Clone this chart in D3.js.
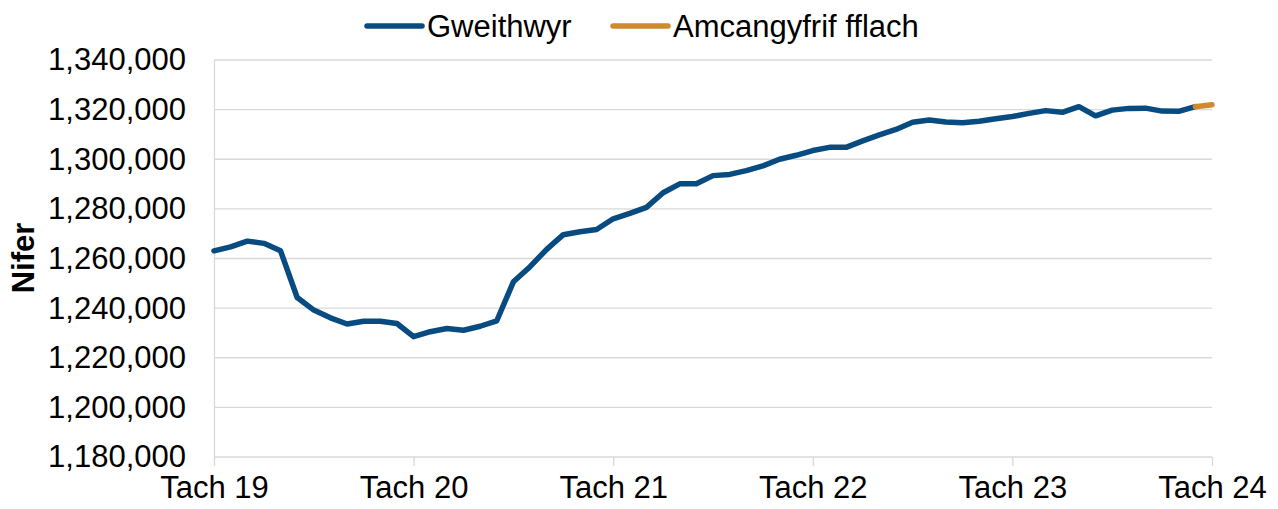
<!DOCTYPE html>
<html>
<head>
<meta charset="utf-8">
<script src="https://cdn.jsdelivr.net/npm/d3@7"></script>
<style>
	body { margin: 0; background: #fff; }
	#chart text { font-family: "Liberation Sans", Arial, sans-serif; fill: #000; }
	.grid line { stroke: #d9d9d9; stroke-width: 1.3; }
	.axis path, .axis line { stroke: #d9d9d9; stroke-width: 1.3; }
</style>
</head>
<body>
<div id="chart"></div>
<script>
// monthly, Tach 19 (index 0) .. Tach 24 (index 60)
var workers = [
	1263100, 1264700, 1267000, 1266100, 1263100, 1244300, 1239200, 1236100, 1233600, 1234700,
	1234700, 1233800, 1228500, 1230500, 1231800, 1231100, 1232700, 1234900, 1250600, 1256700,
	1263700, 1269600, 1270800, 1271700, 1276000, 1278200, 1280600, 1286500, 1290100, 1290100,
	1293400, 1293900, 1295400, 1297300, 1300000, 1301600, 1303500, 1304800, 1304800, 1307400,
	1309800, 1312000, 1314900, 1315800, 1315000, 1314700, 1315300, 1316300, 1317200, 1318500,
	1319600, 1318900, 1321200, 1317500, 1319800, 1320500, 1320600, 1319400, 1319300, 1321200
];
var flashStart = 59;
var flash = [1321200, 1322000];

var xTickIdx = [0, 12, 24, 36, 48, 60];
var xTickLabels = ["Tach 19", "Tach 20", "Tach 21", "Tach 22", "Tach 23", "Tach 24"];
var yTicks = [1180000, 1200000, 1220000, 1240000, 1260000, 1280000, 1300000, 1320000, 1340000];

var seriesNames = ["Gweithwyr", "Amcangyfrif fflach"];
var colors = ["#074b81", "#cf8a2c"];

(function(){
	var width = 1278, height = 509;
	var left = 214, right = 1212, top = 60, bottom = 457;

	var svg = d3.select("#chart").append("svg")
		.attr("width", width)
		.attr("height", height);

	var x = d3.scaleLinear().domain([0, 60]).range([left, right]);
	var y = d3.scaleLinear().domain([1180000, 1340000]).range([bottom, top]);

	// gridlines
	svg.append("g").attr("class", "grid")
		.selectAll("line")
		.data(yTicks.slice(1))
		.enter().append("line")
		.attr("x1", left).attr("x2", right)
		.attr("y1", function(d){ return y(d); })
		.attr("y2", function(d){ return y(d); });

	// y axis
	var yAxis = svg.append("g").attr("class", "axis")
		.attr("transform", "translate(" + left + ",0)")
		.call(d3.axisLeft(y).tickValues(yTicks).tickSize(0).tickPadding(28)
			.tickFormat(d3.format(",")));
	yAxis.selectAll("text").style("font-size", "31px");

	// x axis
	var xAxis = svg.append("g").attr("class", "axis")
		.attr("transform", "translate(0," + bottom + ")")
		.call(d3.axisBottom(x).tickValues(xTickIdx).tickSize(9).tickPadding(10)
			.tickFormat(function(d, i){ return xTickLabels[i]; }));
	xAxis.select(".domain").attr("d", "M" + left + ",0H" + right);
	xAxis.selectAll("text").style("font-size", "31px");

	// y title
	svg.append("text")
		.attr("transform", "translate(34,258) rotate(-90)")
		.attr("text-anchor", "middle")
		.style("font-size", "31px")
		.style("font-weight", "bold")
		.text("Nifer");

	var line = d3.line()
		.x(function(d){ return x(d.i); })
		.y(function(d){ return y(d.v); });

	var workerPts = workers.map(function(v, i){ return {i: i, v: v}; });
	var flashPts = flash.map(function(v, i){ return {i: flashStart + i, v: v}; });

	svg.append("path")
		.datum(workerPts)
		.attr("d", line)
		.attr("fill", "none")
		.attr("stroke", colors[0])
		.attr("stroke-width", 5.5)
		.attr("stroke-linejoin", "round")
		.attr("stroke-linecap", "round");

	svg.append("path")
		.datum(flashPts)
		.attr("d", line)
		.attr("fill", "none")
		.attr("stroke", colors[1])
		.attr("stroke-width", 5.5)
		.attr("stroke-linecap", "round");

	// legend
	var legendX = [367, 613];
	var leg = svg.append("g").selectAll("g")
		.data(seriesNames)
		.enter().append("g")
		.attr("transform", function(d, i){ return "translate(" + legendX[i] + ",26)"; });
	leg.append("line")
		.attr("x1", 0).attr("x2", 55)
		.attr("stroke", function(d, i){ return colors[i]; })
		.attr("stroke-width", 5.5)
		.attr("stroke-linecap", "round");
	leg.append("text")
		.attr("x", 60)
		.attr("dy", "0.35em")
		.style("font-size", "31px")
		.text(function(d){ return d; });
})();
</script>
</body>
</html>
